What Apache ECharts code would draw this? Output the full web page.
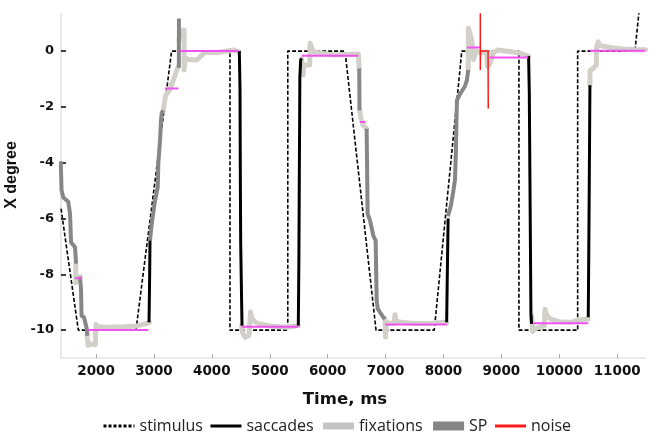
<!DOCTYPE html>
<html>
<head>
<meta charset="utf-8">
<script src="https://cdn.jsdelivr.net/npm/echarts@6/dist/echarts.min.js"></script>
<style>
  html, body { margin: 0; padding: 0; background: #fff; }
  #chart { width: 654px; height: 439px; }
</style>
</head>
<body>
<div id="chart"></div>
<script>
// tick labels
const xTicks = [2000, 3000, 4000, 5000, 6000, 7000, 8000, 9000, 10000, 11000];
const yTicks = [-10, -8, -6, -4, -2, 0];

// stimulus position (deg) over time (ms)
const stimulus = [
  [1396, -5.65], [1694, -10], [2690, -10], [3305, 0], [4313, 0], [4313, -10],
  [5311, -10], [5311, 0], [6300, 0], [6835, -10], [7841, -10], [8316, 0],
  [9303, 0], [9303, -10], [10317, -10], [10317, 0], [11306, 0], [11480, 3.48]
];

// saccade segments
const saccades = [
  [[2915, -9.72], [2925, -8.2], [2932, -6.79]],
  [[4474, 0], [4486, -1.3], [4492, -4.5], [4498, -6.9], [4515, -9.1], [4521, -9.84]],
  [[5493, -9.84], [5503, -7.5], [5510, -4.63], [5520, -0.92], [5534, -0.32], [5550, -0.26]],
  [[8055, -9.72], [8066, -8.0], [8080, -6.0]],
  [[9470, -0.18], [9482, -1.5], [9493, -4.6], [9510, -9.4], [9522, -9.78]],
  [[10500, -9.54], [10508, -7.5], [10518, -4.63], [10529, -1.22]]
];

// fixation segments
const fixations = [
  [[1650, -7.62], [1650, -8.3], [1670, -8.35], [1700, -8.15], [1725, -8.08]],
  [[1845, -10.2], [1862, -10.55], [1900, -10.5], [1990, -10.52], [1998, -9.8], [2030, -9.88],
   [2200, -9.9], [2500, -9.88], [2700, -9.85], [2800, -9.8], [2900, -9.75], [2920, -9.72]],
  [[3160, -2.15], [3200, -1.6], [3278, -1.36], [3364, -0.86], [3416, -0.57], [3428, -0.55]],
  [[3433, 0.4], [3468, 0.75], [3522, 0.75], [3520, -0.68], [3537, -0.25], [3600, -0.3],
   [3740, -0.32], [3800, -0.2], [3880, -0.05], [4100, -0.05], [4365, 0.04], [4470, -0.02]],
  [[4515, -9.84], [4530, -10.1], [4573, -10.26], [4640, -10.2], [4668, -9.35], [4690, -9.6],
   [4775, -9.75], [5000, -9.85], [5300, -9.9], [5493, -9.84]],
  [[5550, -0.28], [5575, -0.86], [5585, -0.5], [5690, -0.5], [5697, 0.28], [5752, -0.03],
   [6100, -0.14], [6310, -0.12], [6530, -0.1], [6545, -0.62]],
  [[6550, -2.12], [6580, -2.45], [6615, -2.66], [6673, -2.78]],
  [[6990, -9.6], [7000, -10.25], [7012, -9.7], [7060, -9.75], [7150, -9.75], [7162, -9.45],
   [7185, -9.7], [7500, -9.76], [7800, -9.75], [8000, -9.72], [8055, -9.75]],
  [[8428, -0.68], [8430, 0.82], [8445, 0.8], [8486, 0.42], [8514, 0.38], [8518, -0.3],
   [8543, -0.3], [8560, 0.0], [8630, -0.05], [8745, -0.03], [8760, -0.56], [8780, -0.6],
   [8800, -0.45], [8860, -0.05], [8945, 0.04], [9320, -0.07], [9470, -0.18]],
  [[9522, -9.5], [9540, -10.05], [9580, -9.95], [9650, -9.9], [9740, -9.85], [9752, -9.25],
   [9781, -9.45], [9840, -9.6], [10000, -9.7], [10200, -9.72], [10300, -9.65], [10500, -9.6]],
  [[10529, -1.22], [10530, -0.7], [10586, -0.62], [10640, -0.5], [10645, 0.15], [10672, 0.33],
   [10700, 0.2], [10900, 0.12], [11100, 0.08], [11300, 0.05], [11490, 0.05]]
];

// smooth pursuit segments
const pursuit = [
  [[1390, -3.95], [1405, -5.0], [1435, -5.25], [1520, -5.4], [1551, -5.83], [1568, -6.85],
   [1637, -7.03], [1655, -7.62]],
  [[1724, -8.08], [1741, -8.58], [1750, -9.48], [1793, -9.55], [1819, -9.77], [1836, -9.91], [1853, -10.2]],
  [[2932, -6.79], [2962, -6.18], [3019, -5.35], [3065, -4.88], [3076, -4.02], [3105, -3.2],
   [3122, -2.48], [3134, -2.23], [3157, -2.12]],
  [[3430, -0.6], [3432, 1.17]],
  [[6545, -0.62], [6550, -2.12]],
  [[6673, -2.78], [6690, -5.83], [6731, -6.07], [6788, -6.61], [6829, -6.79], [6846, -8.94],
   [6864, -9.23], [6903, -9.36], [6960, -9.54], [6990, -9.6]],
  [[8077, -5.92], [8129, -5.53], [8172, -4.99], [8198, -4.63], [8215, -3.55], [8224, -2.48],
   [8233, -1.76], [8284, -1.54], [8371, -1.26], [8405, -1.04], [8428, -0.68]]
];

// noise
const noise = [
  [[8636, 1.5], [8636, -0.68], [8640, 0], [8770, 0], [8773, -2.06]]
];

// mean fixation position: [start, end, deg]
const fixationMeans = [
  [1637, 1753, -8.14], [1855, 2905, -10.0], [3191, 3421, -1.34], [3450, 4457, 0.0],
  [4515, 5493, -9.88], [5551, 6529, -0.17], [6558, 6656, -2.54], [6990, 8055, -9.8],
  [8405, 8630, 0.13], [8802, 9463, -0.23], [9550, 10500, -9.75], [10529, 11480, 0.01]
];

const chart = echarts.init(document.getElementById('chart'));

function seg(name, data, lineStyle) {
  return {
    name: name,
    type: 'line',
    data: data,
    symbol: 'none',
    showSymbol: false,
    silent: true,
    animation: false,
    lineStyle: lineStyle
  };
}

const series = [];
series.push(seg('stimulus', stimulus, { color: '#000', width: 1.6, type: [4, 2] }));
fixations.forEach(d => series.push(seg('fixations', d, { color: '#d3d0c9', width: 5, cap: 'round', join: 'round' })));
pursuit.forEach(d => series.push(seg('SP', d, { color: '#878787', width: 4, join: 'round' })));
saccades.forEach(d => series.push(seg('saccades', d, { color: '#000', width: 3, join: 'round' })));
fixationMeans.forEach(m => series.push(seg('mean', [[m[0], m[2]], [m[1], m[2]]], { color: '#f250f0', width: 2 })));
noise.forEach(d => series.push(seg('noise', d, { color: '#ff1a1a', width: 1.5 })));

const boldNum = { fontFamily: 'DejaVu Sans', fontWeight: 'bold', color: '#111', formatter: v => String(v) };

chart.setOption({
  animation: false,
  grid: { left: 61, right: 9, top: 14, bottom: 81, outerBoundsMode: 'none' },
  xAxis: {
    type: 'value',
    min: 1395,
    max: 11480,
    name: 'Time, ms',
    nameLocation: 'middle',
    nameGap: 33,
    nameTextStyle: { fontFamily: 'DejaVu Sans', fontWeight: 'bold', fontSize: 16.5, color: '#111', padding: [0, 16, 0, 0] },
    axisLine: { show: true, onZero: false, lineStyle: { color: '#e4e4e4', width: 1.5 } },
    axisTick: { show: true, inside: true, length: 4, customValues: xTicks, lineStyle: { color: '#aaa' } },
    axisLabel: Object.assign({ fontSize: 13.5, margin: 6, customValues: xTicks }, boldNum),
    splitLine: { show: false }
  },
  yAxis: {
    type: 'value',
    min: -11,
    max: 1.33,
    name: 'X degree',
    nameLocation: 'middle',
    nameRotate: 90,
    nameGap: 30,
    nameTextStyle: { fontFamily: 'Liberation Sans', fontWeight: 'bold', fontSize: 16, color: '#111', padding: [0, 0, 0, 22] },
    axisLine: { show: true, onZero: false, lineStyle: { color: '#e8e8e8', width: 2 } },
    axisTick: { show: true, inside: true, length: 5, customValues: yTicks, lineStyle: { color: '#000', width: 1.5 } },
    axisLabel: Object.assign({ fontSize: 13, margin: 7, customValues: yTicks }, boldNum),
    splitLine: { show: false }
  },
  legend: {
    left: 102,
    top: 418,
    padding: 0,
    itemWidth: 31,
    itemHeight: 14,
    itemGap: 6,
    itemStyle: { opacity: 0 },
    textStyle: { fontFamily: 'Open Sans', fontSize: 16, color: '#222' },
    data: [
      { name: 'stimulus', lineStyle: { width: 3, type: [3, 2] } },
      { name: 'saccades', lineStyle: { width: 3 } },
      { name: 'fixations', lineStyle: { width: 7, color: '#c4c4c4', cap: 'butt' } },
      { name: 'SP', lineStyle: { width: 9, color: '#858585', cap: 'butt' } },
      { name: 'noise', lineStyle: { width: 3 } }
    ]
  },
  series: series
});
</script>
</body>
</html>
